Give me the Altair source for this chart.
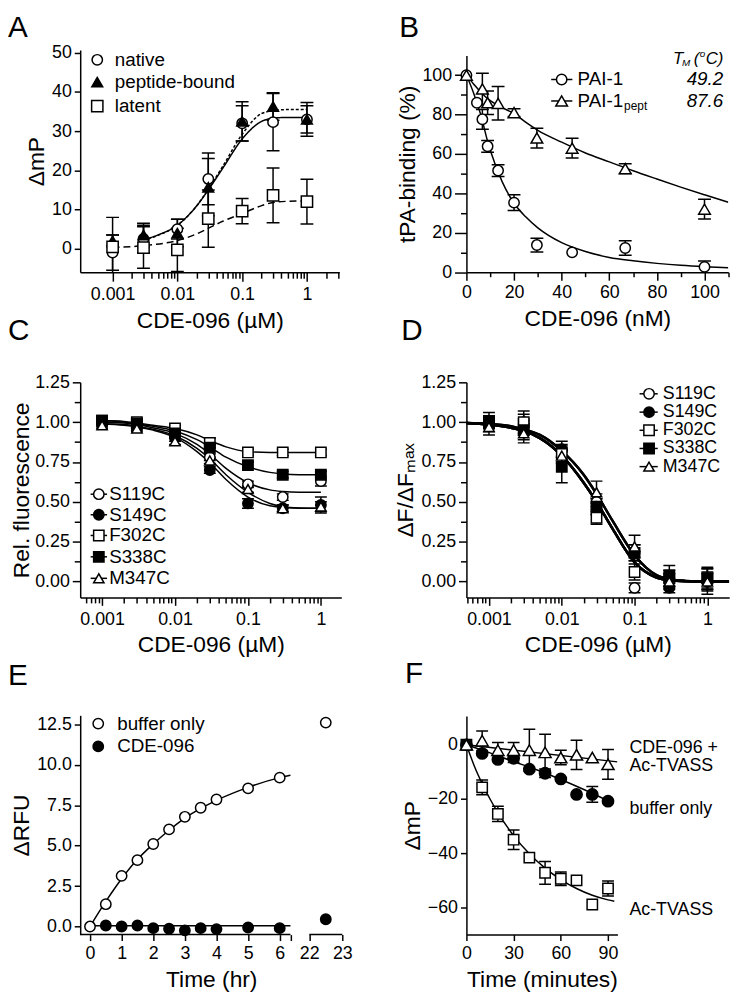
import altair as alt
import pandas as pd

FONT = "Liberation Sans"
TICK_FS = 18
TITLE_FS = 23
LEG_FS = 19
LETTER_FS = 30
LW = 1.5

# ================= Panel A data =================
a_conc = [0.001, 0.003, 0.01, 0.03, 0.1, 0.3, 1.0]
a_series = ["native", "peptide-bound", "latent"]
a_native = [-1.0, 2.5, 5.0, 17.8, 32.0, 32.3, 33.0]
a_native_sd = [4.5, 3.5, 2.5, 6.6, 4.5, 7.3, 4.3]
a_peptide = [2.0, 3.5, 4.0, 15.7, 32.5, 36.3, 33.0]
a_peptide_sd = [1.5, 3.0, 3.5, 7.3, 5.0, 3.5, 3.5]
a_latent = [0.5, 0.3, -0.3, 7.7, 9.6, 13.6, 12.0]
a_latent_sd = [7.5, 5.3, 5.5, 7.3, 3.2, 7.0, 5.7]
a_fit_x = [0.003, 0.005, 0.01, 0.02, 0.03, 0.05, 0.1, 0.2, 0.3, 0.5, 1.0]
a_native_fit = [2.3, 3.5, 6.0, 11.0, 15.0, 20.5, 28.0, 32.5, 33.3, 33.5, 33.5]
a_peptide_fit = [2.2, 3.4, 6.0, 11.0, 15.2, 21.0, 29.2, 34.5, 35.2, 35.5, 35.5]
a_latent_fit_x = [0.001, 0.003, 0.01, 0.02, 0.03, 0.05, 0.1, 0.2, 0.3, 0.5, 1.0]
a_latent_fit = [0.3, 0.8, 2.1, 3.8, 5.2, 7.0, 9.0, 11.0, 11.8, 12.1, 12.2]
a_xticks = [m * 10.0 ** e for e in (-3, -2, -1) for m in range(1, 10)] + [1, 2, 3]
a_yticks = [0, 10, 20, 30, 40, 50]
a_leg_sym_x = 0.00058
a_leg_text_x = 0.00108
a_leg_y = [48.2, 42.5, 36.4]

# ================= Panel B data =================
b_series = ["PAI-1", "PAI-1pept"]
b_pai1_x = [0, 4.4, 6.7, 8.9, 13.3, 20, 29.6, 44.4, 66.7, 100]
b_pai1 = [100, 86.0, 77.6, 63.9, 51.6, 35.3, 13.8, 10.1, 12.3, 2.7]
b_pai1_sd = [0, 0, 5.0, 3.0, 3.0, 4.0, 3.5, 0, 3.7, 3.0]
b_pept_x = [0, 6.7, 8.9, 13.3, 20, 29.6, 44.4, 66.7, 100]
b_pept = [100, 93.0, 86.0, 85.7, 81.0, 68.1, 63.0, 52.6, 32.0]
b_pept_sd = [0, 8.0, 6.0, 8.5, 2.0, 5.0, 5.0, 2.5, 5.0]
b_fit_x = [0, 3, 6, 9, 12, 15, 20, 25, 30, 40, 50, 60, 70, 80, 90, 100, 110]
b_pai1_fit = [100, 91, 80, 66, 55, 46, 35, 28, 22.5, 15, 10.5, 7.5, 5.8, 4.5, 3.5, 2.8, 2.3]
b_pept_fit = [100, 95.5, 91.5, 88, 85.5, 83.5, 80.5, 76, 72, 66, 60.5, 56, 51.5, 47.3, 43.2, 39.3, 35.5]
b_xticks = list(range(0, 111, 10))
b_yticks = list(range(0, 101, 10))
b_leg_line_x = [35.6, 44.5]
b_leg_sym_x = 40.0
b_leg_text_x = 46.7
b_leg_y = [97.8, 86.9]
b_tm_values = ["49.2", "87.6"]
b_tm_x = 92.5
b_head_x = 86.8
b_head_y = 108.0

# ================= Panel C / D data =================
cd_series = ["S119C", "S149C", "F302C", "S338C", "M347C"]
cd_conc = [0.001, 0.003, 0.01, 0.03, 0.1, 0.3, 1.0]
c_vals = {
    "S119C": [1.00, 0.98, 0.92, 0.78, 0.61, 0.53, 0.63],
    "S149C": [0.99, 0.97, 0.90, 0.70, 0.49, 0.46, 0.48],
    "F302C": [1.01, 1.00, 0.96, 0.87, 0.81, 0.81, 0.81],
    "S338C": [1.01, 0.99, 0.93, 0.84, 0.73, 0.67, 0.67],
    "M347C": [0.98, 0.96, 0.88, 0.76, 0.58, 0.46, 0.47],
}
c_sd = {
    "S119C": [0.02, 0.02, 0.02, 0.02, 0.02, 0.02, 0.03],
    "S149C": [0.02, 0.02, 0.02, 0.02, 0.03, 0.02, 0.05],
    "F302C": [0.02, 0.02, 0.02, 0.03, 0.02, 0.02, 0.02],
    "S338C": [0.02, 0.02, 0.02, 0.02, 0.02, 0.02, 0.02],
    "M347C": [0.02, 0.02, 0.02, 0.02, 0.02, 0.02, 0.03],
}
c_fit_x = [0.001, 0.002, 0.003, 0.005, 0.01, 0.02, 0.03, 0.05, 0.1, 0.2, 0.3, 0.5, 1.0]
c_fits = {
    "S119C": [1.0, 0.995, 0.985, 0.965, 0.93, 0.86, 0.80, 0.71, 0.62, 0.575, 0.565, 0.56, 0.56],
    "S149C": [0.99, 0.98, 0.97, 0.95, 0.905, 0.815, 0.745, 0.64, 0.53, 0.475, 0.465, 0.46, 0.46],
    "F302C": [1.01, 1.005, 0.995, 0.98, 0.96, 0.92, 0.885, 0.845, 0.815, 0.81, 0.81, 0.81, 0.81],
    "S338C": [1.01, 1.0, 0.99, 0.975, 0.945, 0.89, 0.845, 0.78, 0.72, 0.685, 0.675, 0.67, 0.67],
    "M347C": [0.99, 0.985, 0.975, 0.955, 0.915, 0.835, 0.77, 0.67, 0.56, 0.49, 0.47, 0.462, 0.46],
}
d_vals = {
    "S119C": [1.00, 1.00, 0.82, 0.50, -0.04, 0.02, 0.00],
    "S149C": [1.00, 0.97, 0.83, 0.47, 0.18, -0.04, 0.00],
    "F302C": [1.00, 1.00, 0.80, 0.40, 0.06, 0.02, 0.02],
    "S338C": [1.00, 0.95, 0.72, 0.47, 0.18, 0.03, 0.02],
    "M347C": [0.97, 0.93, 0.79, 0.56, 0.22, 0.00, 0.00],
}
d_sd = {
    "S119C": [0.04, 0.05, 0.04, 0.05, 0.03, 0.05, 0.05],
    "S149C": [0.04, 0.05, 0.05, 0.05, 0.05, 0.03, 0.06],
    "F302C": [0.04, 0.07, 0.05, 0.04, 0.05, 0.05, 0.06],
    "S338C": [0.06, 0.06, 0.10, 0.05, 0.05, 0.07, 0.07],
    "M347C": [0.05, 0.06, 0.05, 0.07, 0.07, 0.05, 0.08],
}
d_fit_x = [0.00049, 0.001, 0.002, 0.003, 0.005, 0.01, 0.02, 0.03, 0.05, 0.1, 0.2, 0.3, 0.5, 1.0, 1.99]
d_fit_left = [0.995, 0.985, 0.965, 0.945, 0.90, 0.79, 0.62, 0.50, 0.33, 0.12, 0.025, 0.008, 0.002, 0.0, 0.0]
d_fit_right = [0.995, 0.99, 0.975, 0.955, 0.92, 0.82, 0.67, 0.55, 0.38, 0.165, 0.04, 0.015, 0.004, 0.0, 0.0]
d_fit_group = {"S119C": "right", "S149C": "left", "F302C": "left", "S338C": "left", "M347C": "right"}
cd_xticks_c = [m * 10.0 ** e for e in (-4,) for m in range(5, 10)] + \
    [m * 10.0 ** e for e in (-3, -2, -1) for m in range(1, 10)] + [1]
cd_yticks = [0, 0.125, 0.25, 0.375, 0.5, 0.625, 0.75, 0.875, 1.0, 1.125, 1.25]
c_leg_line_x = [0.000697, 0.00117]
c_leg_sym_x = 0.000902
c_leg_text_x = 0.00125
c_leg_y = [0.548, 0.419, 0.289, 0.155, 0.020]
d_leg_line_x = [0.117, 0.208]
d_leg_sym_x = 0.158
d_leg_text_x = 0.244
d_leg_y = [1.178, 1.063, 0.949, 0.835, 0.721]

# ================= Panel E data =================
e_series = ["buffer only", "CDE-096"]
e_buf_t = [0, 0.5, 1, 1.5, 2, 2.5, 3, 3.5, 4, 5, 6, 22.5]
e_buf = [0, 1.38, 3.13, 4.1, 5.1, 6.0, 6.78, 7.34, 7.85, 8.54, 9.2, 12.6]
e_cde_t = [0.5, 1, 1.5, 2, 2.5, 3, 3.5, 4, 5, 6, 22.5]
e_cde = [0.06, 0.0, 0.06, -0.1, -0.14, -0.24, -0.1, -0.16, -0.06, -0.1, 0.45]
e_buf_fit_t = [0, 0.5, 1, 1.5, 2, 2.5, 3, 3.5, 4, 5, 6, 6.34]
e_buf_fit = [0, 1.55, 2.95, 4.15, 5.1, 5.95, 6.7, 7.3, 7.8, 8.6, 9.2, 9.35]
e_cde_fit_t = [0, 6.34]
e_cde_fit = [0.05, 0.05]
e_axis_segments = [(-0.31, 6.34), (22, 23)]
e_xticks = [0, 1, 2, 3, 4, 5, 6, 6.34, 22, 23]
e_yticks = [0, 2.5, 5, 7.5, 10, 12.5]
e_leg_sym_x = 0.26
e_leg_text_x = 0.86
e_leg_y = [12.54, 11.13]

# ================= Panel F data =================
f_series = ["CDE-096 + Ac-TVASS", "buffer only", "Ac-TVASS"]
f_t = [0, 10, 20, 30, 40, 50, 60, 70, 80, 90]
f_tri = [0, 1.5, -2.0, -2.0, -2.0, -2.8, -4.7, -3.7, -4.7, -7.2]
f_tri_sd = [0, 3.6, 2.8, 2.8, 7.7, 6.7, 2.7, 5.4, 0, 5.5]
f_circ = [0, -3.2, -5.4, -5.0, -9.0, -10.5, -12.6, -18.3, -18.3, -20.8]
f_circ_sd = [0, 0, 0, 1.5, 0, 1.6, 0, 0, 2.9, 0]
f_sq = [0, -15.7, -25.5, -35.0, -41.6, -47.2, -49.4, -50.0, -58.9, -53.0]
f_sq_sd = [0, 2.7, 2.8, 3.6, 0, 4.2, 2.5, 0, 0, 2.8]
f_tri_fit_t = [0, 96]
f_tri_fit = [0, -6.3]
f_circ_fit_t = [0, 15, 30, 45, 60, 75, 93]
f_circ_fit = [0, -3.0, -6.2, -9.3, -12.8, -16.6, -21.5]
f_sq_fit_t = [0, 5, 10, 15, 20, 30, 40, 50, 60, 70, 80, 90, 94]
f_sq_fit = [0, -7.8, -14.3, -20.0, -25.0, -33.5, -40.2, -45.5, -49.7, -53.0, -55.5, -57.2, -57.7]
f_labels = ["CDE-096 +", "Ac-TVASS", "buffer only", "Ac-TVASS"]
f_label_x = 103.6
f_label_y = [-1.1, -8.0, -23.6, -61.0]

# panel letters: (offset left of plot, baseline above plot top) in pixels
letters = {"A": (-73, -13), "B": (-68, -13), "C": (-73, -42.5),
           "D": (-66, -42.5), "E": (-73, -23.1), "F": (-62, -24.8)}

# ================= helpers =================
LOGMAJOR = "abs(log(datum.value)/LN10 - round(log(datum.value)/LN10)) < 0.000001"


def log_axis(title, ticks, major=9, minor=6, tpad=6):
    return alt.Axis(title=title, values=ticks,
                    labelExpr="(" + LOGMAJOR + ") ? format(datum.value, '~g') : ''",
                    tickSize={"condition": {"test": LOGMAJOR, "value": major}, "value": minor},
                    labelFlush=False, labelOverlap=False, labelPadding=5, titlePadding=tpad)


def lin_axis(title, ticks, size=6, fmt=None, label_expr=None, tick_test=None, major=8,
             pad=3, tpad=4, domain=True):
    kw = dict(title=title, values=ticks, tickSize=size, labelFlush=False,
              labelOverlap=False, labelPadding=pad, titlePadding=tpad, domain=domain)
    if fmt:
        kw["format"] = fmt
    if label_expr:
        kw["labelExpr"] = label_expr
    if tick_test:
        kw["tickSize"] = {"condition": {"test": tick_test, "value": major}, "value": size}
    return alt.Axis(**kw)


def make_enc(scale, axis, ch):
    def f(field):
        if ch == "x":
            return alt.X(field + ":Q", scale=scale, axis=axis)
        return alt.Y(field + ":Q", scale=scale, axis=axis)
    return f


def points_df(xs_by_series, ys_by_series, sd_by_series, order):
    rows = []
    for s in order:
        for x, y, e in zip(xs_by_series[s], ys_by_series[s], sd_by_series[s]):
            rows.append({"x": x, "y": y, "lo": y - e, "hi": y + e, "sd": e, "series": s})
    return pd.DataFrame(rows)


def fits_df(xs_by_series, ys_by_series, order):
    rows = []
    for s in order:
        for x, y in zip(xs_by_series[s], ys_by_series[s]):
            rows.append({"x": x, "y": y, "series": s})
    return pd.DataFrame(rows)


def err_layers(df, X, Y, cap=13):
    d = df[df["sd"] > 0]
    caps = pd.concat([d.assign(cap=d["lo"]), d.assign(cap=d["hi"])])
    rule = alt.Chart(d).mark_rule(color="black", strokeWidth=LW, clip=True).encode(
        x=X("x"), y=Y("lo"), y2=alt.Y2("hi"))
    tick = alt.Chart(caps).mark_tick(orient="horizontal", size=cap, thickness=LW,
                                     color="black", clip=True, opacity=1).encode(
        x=X("x"), y=Y("cap"))
    return [rule, tick]


def point_layer(df, X, Y, shape_sc, fill_sc, size_sc):
    return alt.Chart(df).mark_point(filled=True, opacity=1, stroke="black",
                                    strokeWidth=LW).encode(
        x=X("x"), y=Y("y"),
        shape=alt.Shape("series:N", scale=shape_sc, legend=None),
        fill=alt.Fill("series:N", scale=fill_sc, legend=None),
        size=alt.Size("series:N", scale=size_sc, legend=None))


def fit_layer(df, X, Y, dash_sc=None, width=LW):
    enc = dict(x=X("x"), y=Y("y"), detail="series:N")
    if dash_sc is not None:
        enc["strokeDash"] = alt.StrokeDash("series:N", scale=dash_sc, legend=None)
    return alt.Chart(df).mark_line(color="black", strokeWidth=width,
                                   interpolate="monotone", clip=True).encode(**enc)


def text_layer(df, X, Y, size=LEG_FS, style="normal", dx=0, dy=0):
    return alt.Chart(df).mark_text(align="left", baseline="middle", font=FONT,
                                   fontSize=size, fontStyle=style, color="black",
                                   dx=dx, dy=dy).encode(
        x=X("x"), y=Y("y"), text="label:N")


def letter_layer(t):
    lx, ly = letters[t]
    return alt.Chart(pd.DataFrame({"label": [t]})).mark_text(
        align="left", baseline="alphabetic", font=FONT, fontSize=LETTER_FS, color="black"
    ).encode(text="label:N", x=alt.value(lx), y=alt.value(ly))


# ================= Panel A =================
A_W, A_H = 262, 224.7
ax_xs = alt.Scale(type="log", domain=[10 ** -3.5, 10 ** 0.5], nice=False)
ax_ys = alt.Scale(domain=[-6, 50.7], nice=False, zero=False)
AX = make_enc(ax_xs, log_axis("CDE-096 (µM)", a_xticks), "x")
AY = make_enc(ax_ys, lin_axis("ΔmP", a_yticks, size=6, tpad=3), "y")
a_shape = alt.Scale(domain=a_series, range=["circle", "triangle-up", "square"])
a_fill = alt.Scale(domain=a_series, range=["white", "black", "white"])
a_size = alt.Scale(domain=a_series, range=[110, 130, 120])
a_dash = alt.Scale(domain=a_series, range=[[1, 0], [3, 2], [7, 4]])

a_pts = points_df({s: a_conc for s in a_series},
                  {"native": a_native, "peptide-bound": a_peptide, "latent": a_latent},
                  {"native": a_native_sd, "peptide-bound": a_peptide_sd, "latent": a_latent_sd},
                  a_series)
a_fit = fits_df({"native": a_fit_x, "peptide-bound": a_fit_x, "latent": a_latent_fit_x},
                {"native": a_native_fit, "peptide-bound": a_peptide_fit, "latent": a_latent_fit},
                a_series)
a_leg = pd.DataFrame({"x": [a_leg_sym_x] * 3, "y": a_leg_y, "series": a_series})
a_leg_t = pd.DataFrame({"x": [a_leg_text_x] * 3, "y": a_leg_y, "label": a_series})

panelA = alt.layer(
    fit_layer(a_fit, AX, AY, a_dash),
    *err_layers(a_pts, AX, AY),
    point_layer(a_pts, AX, AY, a_shape, a_fill, a_size),
    point_layer(a_leg, AX, AY, a_shape, a_fill, a_size),
    text_layer(a_leg_t, AX, AY),
    letter_layer("A"),
).properties(width=A_W, height=A_H)

# ================= Panel B =================
B_W, B_H = 264.8, 224.7
bx_s = alt.Scale(domain=[0, 110], nice=False, zero=False)
by_s = alt.Scale(domain=[0, 110], nice=False, zero=False, range=[B_H, 5.5])
BX = make_enc(bx_s, lin_axis("CDE-096 (nM)", b_xticks, size=4.5,
                             label_expr="datum.value % 20 === 0 ? datum.label : ''",
                             tick_test="datum.value % 20 === 0", major=8, pad=4, tpad=6), "x")
BY = make_enc(by_s, lin_axis("tPA-binding (%)", b_yticks, size=6,
                             label_expr="datum.value % 20 === 0 ? datum.label : ''",
                             tick_test="datum.value % 20 === 0", major=12, tpad=2), "y")
b_shape = alt.Scale(domain=b_series, range=["circle", "triangle-up"])
b_fill = alt.Scale(domain=b_series, range=["white", "white"])
b_size = alt.Scale(domain=b_series, range=[110, 140])
b_pts = points_df({"PAI-1": b_pai1_x, "PAI-1pept": b_pept_x},
                  {"PAI-1": b_pai1, "PAI-1pept": b_pept},
                  {"PAI-1": b_pai1_sd, "PAI-1pept": b_pept_sd}, b_series)
b_fit = fits_df({s: b_fit_x for s in b_series},
                {"PAI-1": b_pai1_fit, "PAI-1pept": b_pept_fit}, b_series)
b_leg_lines = pd.DataFrame({"x": [b_leg_line_x[0]] * 2, "x2": [b_leg_line_x[1]] * 2,
                            "y": b_leg_y})
b_leg = pd.DataFrame({"x": [b_leg_sym_x] * 2, "y": b_leg_y, "series": b_series})
b_leg_t = pd.DataFrame({"x": [b_leg_text_x] * 2, "y": b_leg_y, "label": ["PAI-1", "PAI-1"]})
b_leg_sub = pd.DataFrame({"x": [b_leg_text_x], "y": [b_leg_y[1]], "label": ["pept"]})
b_leg_v = pd.DataFrame({"x": [b_tm_x] * 2, "y": b_leg_y, "label": b_tm_values})
b_head1 = pd.DataFrame({"x": [b_head_x], "y": [b_head_y], "label": ["T"]})
b_head2 = pd.DataFrame({"x": [b_head_x], "y": [b_head_y], "label": ["M"]})
b_head3 = pd.DataFrame({"x": [b_head_x], "y": [b_head_y], "label": ["("]})
b_head4 = pd.DataFrame({"x": [b_head_x], "y": [b_head_y], "label": ["o"]})
b_head5 = pd.DataFrame({"x": [b_head_x], "y": [b_head_y], "label": ["C)"]})

panelB = alt.layer(
    fit_layer(b_fit, BX, BY),
    *err_layers(b_pts, BX, BY),
    point_layer(b_pts, BX, BY, b_shape, b_fill, b_size),
    alt.Chart(b_leg_lines).mark_rule(color="black", strokeWidth=LW).encode(
        x=BX("x"), x2=alt.X2("x2"), y=BY("y")),
    point_layer(b_leg, BX, BY, b_shape, b_fill, b_size),
    text_layer(b_leg_t, BX, BY),
    text_layer(b_leg_sub, BX, BY, size=12, dx=47, dy=5),
    text_layer(b_leg_v, BX, BY, style="italic"),
    text_layer(b_head1, BX, BY, size=17, style="italic"),
    text_layer(b_head2, BX, BY, size=10, style="italic", dx=9, dy=4),
    text_layer(b_head3, BX, BY, size=17, style="italic", dx=21),
    text_layer(b_head4, BX, BY, size=10, style="italic", dx=27, dy=-5),
    text_layer(b_head5, BX, BY, size=17, style="italic", dx=33),
    letter_layer("B"),
).properties(width=B_W, height=B_H)

# ================= Panel C =================
CD_H = 217.5
C_W = 264
cx_s = alt.Scale(type="log", domain=[10 ** -3.3, 10 ** 0.28], nice=False)
cy_s = alt.Scale(domain=[-0.1, 1.25], nice=False, zero=False)
Q_LAB = "abs(datum.value*4 - round(datum.value*4)) < 0.000001"
CX = make_enc(cx_s, log_axis("CDE-096 (µM)", cd_xticks_c, major=8, minor=5.5), "x")
CY = make_enc(cy_s, lin_axis("Rel. fluorescence", cd_yticks, size=6,
                             label_expr="(" + Q_LAB + ") ? format(datum.value, '.2f') : ''",
                             tick_test=Q_LAB, major=8, tpad=1), "y")
cd_shape = alt.Scale(domain=cd_series, range=["circle", "circle", "square", "square", "triangle-up"])
cd_fill = alt.Scale(domain=cd_series, range=["white", "black", "white", "black", "white"])
cd_size = alt.Scale(domain=cd_series, range=[110, 110, 110, 110, 130])
c_pts = points_df({s: cd_conc for s in cd_series}, c_vals, c_sd, cd_series)
c_fit = fits_df({s: c_fit_x for s in cd_series}, c_fits, cd_series)
c_leg_lines = pd.DataFrame({"x": [c_leg_line_x[0]] * 5, "x2": [c_leg_line_x[1]] * 5, "y": c_leg_y})
c_leg = pd.DataFrame({"x": [c_leg_sym_x] * 5, "y": c_leg_y, "series": cd_series})
c_leg_t = pd.DataFrame({"x": [c_leg_text_x] * 5, "y": c_leg_y, "label": cd_series})

panelC = alt.layer(
    fit_layer(c_fit, CX, CY),
    *err_layers(c_pts, CX, CY, cap=12),
    point_layer(c_pts, CX, CY, cd_shape, cd_fill, cd_size),
    alt.Chart(c_leg_lines).mark_rule(color="black", strokeWidth=LW).encode(
        x=CX("x"), x2=alt.X2("x2"), y=CY("y")),
    point_layer(c_leg, CX, CY, cd_shape, cd_fill, cd_size),
    text_layer(c_leg_t, CX, CY),
    letter_layer("C"),
).properties(width=C_W, height=CD_H)

# ================= Panel D =================
D_W = 265.7
dx_s = alt.Scale(type="log", domain=[10 ** -3.31, 10 ** 0.3], nice=False)
dy_s = alt.Scale(domain=[-0.1, 1.25], nice=False, zero=False)
DX = make_enc(dx_s, log_axis("CDE-096 (µM)", cd_xticks_c, major=8, minor=5.5), "x")
DY = make_enc(dy_s, lin_axis("ΔF/ΔFₘₐₓ", cd_yticks, size=6,
                             label_expr="(" + Q_LAB + ") ? format(datum.value, '.2f') : ''",
                             tick_test=Q_LAB, major=8, tpad=3), "y")
d_pts = points_df({s: cd_conc for s in cd_series}, d_vals, d_sd, cd_series)
d_fit = fits_df({s: d_fit_x for s in cd_series},
                {s: (d_fit_left if d_fit_group[s] == "left" else d_fit_right) for s in cd_series},
                cd_series)
d_leg_lines = pd.DataFrame({"x": [d_leg_line_x[0]] * 5, "x2": [d_leg_line_x[1]] * 5, "y": d_leg_y})
d_leg = pd.DataFrame({"x": [d_leg_sym_x] * 5, "y": d_leg_y, "series": cd_series})
d_leg_t = pd.DataFrame({"x": [d_leg_text_x] * 5, "y": d_leg_y, "label": cd_series})

panelD = alt.layer(
    fit_layer(d_fit, DX, DY, width=2.5),
    *err_layers(d_pts, DX, DY, cap=12),
    point_layer(d_pts, DX, DY, cd_shape, cd_fill, cd_size),
    alt.Chart(d_leg_lines).mark_rule(color="black", strokeWidth=LW).encode(
        x=DX("x"), x2=alt.X2("x2"), y=DY("y")),
    point_layer(d_leg, DX, DY, cd_shape, cd_fill, cd_size),
    text_layer(d_leg_t, DX, DY, size=18),
    letter_layer("D"),
).properties(width=D_W, height=CD_H)

# ================= Panel E =================
R3_H = 229.4
E_W = 265
ex_s = alt.Scale(domain=[-0.31, 6.34, 22, 23], range=[0, 212.6, 231.6, 265], nice=False, zero=False)
ey_s = alt.Scale(domain=[-0.5, 13.05], nice=False, zero=False, range=[R3_H, 7.7])
EX = make_enc(ex_s, lin_axis("Time (hr)", e_xticks, size=6, pad=4, tpad=6, domain=False,
                             label_expr="datum.value == round(datum.value) ? datum.label : ''"), "x")
EY = make_enc(ey_s, lin_axis("ΔRFU", e_yticks, size=6, fmt=".1f", tpad=3), "y")
e_shape = alt.Scale(domain=e_series, range=["circle", "circle"])
e_fill = alt.Scale(domain=e_series, range=["white", "black"])
e_size = alt.Scale(domain=e_series, range=[110, 110])
e_pts = pd.DataFrame(
    [{"x": t, "y": v, "series": "buffer only"} for t, v in zip(e_buf_t, e_buf)] +
    [{"x": t, "y": v, "series": "CDE-096"} for t, v in zip(e_cde_t, e_cde)])
e_pts = pd.concat([e_pts[e_pts.series == "CDE-096"], e_pts[e_pts.series == "buffer only"]])
e_fit = fits_df({"buffer only": e_buf_fit_t, "CDE-096": e_cde_fit_t},
                {"buffer only": e_buf_fit, "CDE-096": e_cde_fit}, e_series)
e_seg = pd.DataFrame({"x": [s[0] for s in e_axis_segments], "x2": [s[1] for s in e_axis_segments],
                      "yb": [-0.5, -0.5]})
e_leg = pd.DataFrame({"x": [e_leg_sym_x] * 2, "y": e_leg_y, "series": e_series})
e_leg_t = pd.DataFrame({"x": [e_leg_text_x] * 2, "y": e_leg_y, "label": e_series})

panelE = alt.layer(
    alt.Chart(e_seg).mark_rule(color="black", strokeWidth=LW).encode(
        x=EX("x"), x2=alt.X2("x2"), y=EY("yb")),
    fit_layer(e_fit, EX, EY),
    point_layer(e_pts, EX, EY, e_shape, e_fill, e_size),
    point_layer(e_leg, EX, EY, e_shape, e_fill, e_size),
    text_layer(e_leg_t, EX, EY),
    letter_layer("E"),
).properties(width=E_W, height=R3_H)

# ================= Panel F =================
F_W = 152.7
fx_s = alt.Scale(domain=[0, 96], nice=False, zero=False)
fy_s = alt.Scale(domain=[-70, 10.6], nice=False, zero=False, range=[R3_H, 8.4])
FX = make_enc(fx_s, lin_axis("Time (minutes)", [0, 30, 60, 90], size=6, pad=4, tpad=6), "x")
FY = make_enc(fy_s, lin_axis("ΔmP", [0, -20, -40, -60], size=6, tpad=3), "y")
f_shape = alt.Scale(domain=f_series, range=["triangle-up", "circle", "square"])
f_fill = alt.Scale(domain=f_series, range=["white", "black", "white"])
f_size = alt.Scale(domain=f_series, range=[150, 110, 130])
f_pts = points_df({s: f_t for s in f_series},
                  {"CDE-096 + Ac-TVASS": f_tri, "buffer only": f_circ, "Ac-TVASS": f_sq},
                  {"CDE-096 + Ac-TVASS": f_tri_sd, "buffer only": f_circ_sd, "Ac-TVASS": f_sq_sd},
                  ["Ac-TVASS", "buffer only", "CDE-096 + Ac-TVASS"])
f_fit = fits_df({"CDE-096 + Ac-TVASS": f_tri_fit_t, "buffer only": f_circ_fit_t, "Ac-TVASS": f_sq_fit_t},
                {"CDE-096 + Ac-TVASS": f_tri_fit, "buffer only": f_circ_fit, "Ac-TVASS": f_sq_fit},
                f_series)
f_lab = pd.DataFrame({"x": [f_label_x] * 4, "y": f_label_y, "label": f_labels})

panelF = alt.layer(
    fit_layer(f_fit, FX, FY),
    *err_layers(f_pts, FX, FY, cap=12),
    point_layer(f_pts, FX, FY, f_shape, f_fill, f_size),
    text_layer(f_lab, FX, FY, size=18),
    letter_layer("F"),
).properties(width=F_W, height=R3_H)

# ================= assemble =================
chart = alt.concat(
    panelA, panelB, panelC, panelD, panelE, panelF,
    columns=2, spacing={"row": 111, "column": 125.5}, bounds="flush",
).resolve_scale(
    shape="independent", fill="independent", size="independent", strokeDash="independent"
).properties(
    padding={"left": 0, "top": 0, "right": 0, "bottom": 0}
).configure_view(
    strokeOpacity=0
).configure_axis(
    labelFont=FONT, titleFont=FONT, labelFontSize=TICK_FS, titleFontSize=TITLE_FS,
    titleFontWeight="normal", labelColor="black", titleColor="black",
    domainColor="black", tickColor="black", domainWidth=LW, tickWidth=LW, grid=False,
)

chart.save("out.html", embed_options={"renderer": "svg", "actions": False})
